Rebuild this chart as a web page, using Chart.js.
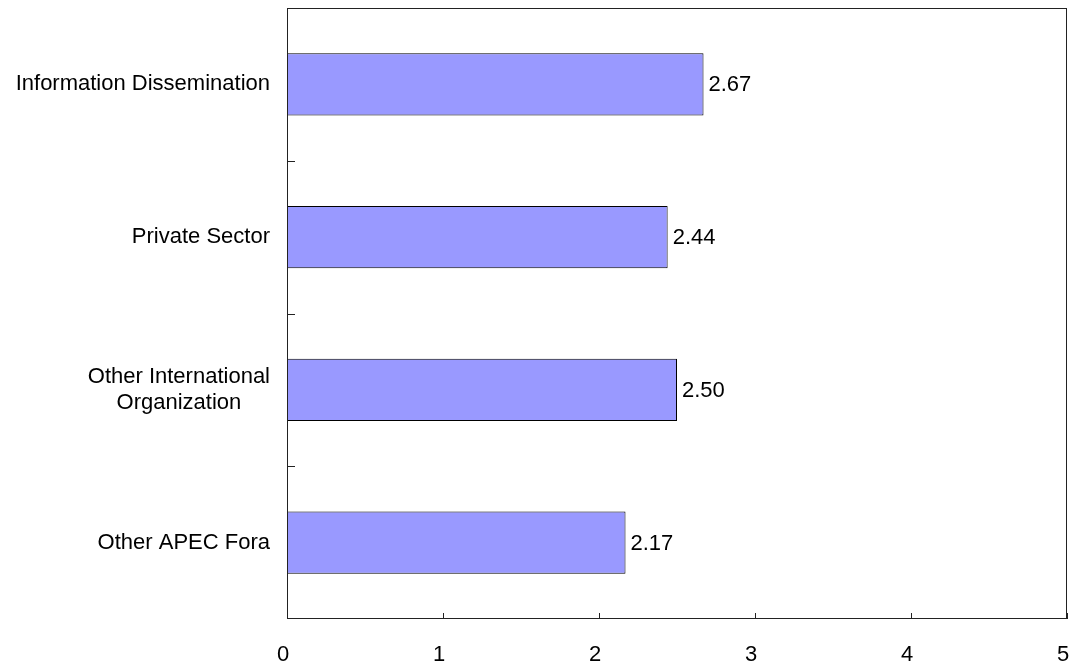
<!DOCTYPE html>
<html>
<head>
<meta charset="utf-8">
<script src="https://cdn.jsdelivr.net/npm/chart.js@4/dist/chart.umd.min.js"></script>
<style>
    html, body { margin: 0; padding: 0; background: #fff; }
    #wrap { width: 1071px; height: 666px; }
</style>
</head>
<body>
<div id="wrap"><canvas id="graph" width="1071" height="666"></canvas></div>
<script>
const categories = [
    'Information Dissemination',
    'Private Sector',
    ['Other International', 'Organization'],
    'Other APEC Fora',
];
const scores = [2.67, 2.44, 2.50, 2.17];
const xTicks = [0, 1, 2, 3, 4, 5];

const FONT = '22px "Liberation Sans", Arial, sans-serif';
Chart.defaults.font.family = '"Liberation Sans", Arial, sans-serif';
Chart.defaults.font.size = 22;
Chart.defaults.color = '#000';

// frame around the plot, inward ticks on both axes, axis labels, value labels
const decorations = {
    id: 'decorations',
    afterDatasetsDraw(chart) {
        const { ctx, chartArea: a } = chart;
        const x = chart.scales.x;
        const y = chart.scales.y;

        ctx.save();
        ctx.strokeStyle = '#222';
        ctx.lineWidth = 1;
        ctx.strokeRect(Math.round(a.left) + 0.5, Math.round(a.top) + 0.5,
            Math.round(a.right - a.left) - 1, Math.round(a.bottom - a.top) - 1);

        ctx.beginPath();
        xTicks.forEach(v => {
            const px = Math.round(x.getPixelForValue(v)) + 0.5;
            ctx.moveTo(px, a.bottom);
            ctx.lineTo(px, a.bottom - 6);
        });
        for (let i = 0; i < categories.length - 1; i++) {
            const py = Math.round((y.getPixelForValue(i) + y.getPixelForValue(i + 1)) / 2) + 0.5;
            ctx.moveTo(a.left, py);
            ctx.lineTo(a.left + 8, py);
        }
        ctx.stroke();

        ctx.fillStyle = '#000';
        ctx.font = FONT;
        ctx.textBaseline = 'middle';
        ctx.textAlign = 'center';
        xTicks.forEach(v => {
            ctx.fillText(String(v), x.getPixelForValue(v) - 4, a.bottom + 36);
        });

        // category labels: block right-aligned, lines centred within it
        const lineH = 26;
        categories.forEach((label, i) => {
            const lines = [].concat(label);
            const widest = Math.max(...lines.map(l => ctx.measureText(l).width));
            const cx = a.left - 17 - widest / 2;
            const cy = y.getPixelForValue(i);
            lines.forEach((l, j) => {
                ctx.fillText(l, cx, cy + (j - (lines.length - 1) / 2) * lineH);
            });
        });

        ctx.textAlign = 'left';
        chart.getDatasetMeta(0).data.forEach((bar, i) => {
            ctx.fillText(scores[i].toFixed(2), bar.x + 5, bar.y + 1);
        });
        ctx.restore();
    },
};

new Chart('graph', {
    type: 'bar',
    data: {
        labels: categories,
        datasets: [{
            data: scores,
            backgroundColor: '#9999FF',
            borderColor: '#000',
            borderWidth: 1,
            borderSkipped: false,
            barPercentage: 0.406,
            categoryPercentage: 1,
        }],
    },
    options: {
        indexAxis: 'y',
        responsive: false,
        animation: false,
        layout: {
            padding: { top: 8, right: 4, left: 0, bottom: 0 },
        },
        plugins: {
            legend: { display: false },
            tooltip: { enabled: false },
        },
        scales: {
            x: {
                min: 0,
                max: 5,
                afterBuildTicks: s => { s.ticks = xTicks.map(v => ({ value: v })); },
                afterFit: s => {
                    s.height = 47;
                    s.paddingLeft = 0;
                    s.paddingRight = 0;
                },
                grid: { display: false, drawTicks: false },
                border: { display: false },
                ticks: { display: false },
            },
            y: {
                afterFit: s => {
                    s.width = 287;
                    s.paddingTop = 0;
                    s.paddingBottom = 0;
                },
                grid: { display: false, drawTicks: false },
                border: { display: false },
                ticks: { display: false },
            },
        },
    },
    plugins: [decorations],
});
</script>
</body>
</html>
